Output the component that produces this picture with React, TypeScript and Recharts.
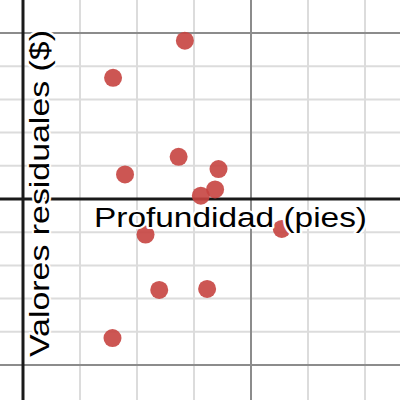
import React from "react";
import { ScatterChart, Scatter, XAxis, YAxis, ReferenceLine } from "recharts";

// Residual plot data (x in minor-grid units of depth, y in minor-grid units of residual)
const depth = [2.84, 1.58, 2.73, 3.43, 1.79, 3.37, 3.12, 2.15, 4.54, 2.39, 3.23, 1.57];
const residual = [4.77, 3.65, 1.27, 0.9, 0.74, 0.29, 0.1, -1.07, -0.9, -2.74, -2.71, -4.19];

const minorX = [1, 2, 3, 5, 6];
const majorX = [4];
const minorY = [-4, -3, -2, -1, 1, 2, 3, 4];
const majorY = [-5, 5];

const xDomain = [-0.4035, 6.614];
const yDomain = [-6.054, 5.994];

const xLabel = "Profundidad (pies)";
const yLabel = "Valores residuales ($)";

const points = depth.map((x, i) => ({ x, y: residual[i] }));

const FONT = "'Liberation Sans', Arial, Helvetica, sans-serif";

export default function App() {
  return (
    <div style={{ position: "absolute", left: 0, top: 0, width: 400, height: 400, background: "#fff" }}>
      <ScatterChart width={400} height={400} margin={{ top: 0, right: 0, bottom: 0, left: 0 }}>
        <XAxis type="number" dataKey="x" domain={xDomain} hide allowDataOverflow />
        <YAxis type="number" dataKey="y" domain={yDomain} hide allowDataOverflow />
        {minorX.map((v) => (
          <ReferenceLine key={"mx" + v} x={v} stroke="#dcdcdc" strokeWidth={2} />
        ))}
        {minorY.map((v) => (
          <ReferenceLine key={"my" + v} y={v} stroke="#dcdcdc" strokeWidth={2} />
        ))}
        {majorX.map((v) => (
          <ReferenceLine key={"Mx" + v} x={v} stroke="#8c8c8c" strokeWidth={2} />
        ))}
        {majorY.map((v) => (
          <ReferenceLine key={"My" + v} y={v} stroke="#8c8c8c" strokeWidth={2} />
        ))}
        <ReferenceLine x={0} stroke="#1a1a1a" strokeWidth={3} />
        <ReferenceLine y={0} stroke="#1a1a1a" strokeWidth={3} />
        <Scatter
          data={points}
          fill="#c74440"
          fillOpacity={0.9}
          isAnimationActive={false}
          shape={(p: any) => <circle cx={p.cx} cy={p.cy} r={9} fill="#c74440" fillOpacity={0.9} />}
        />
      </ScatterChart>
      <svg
        width={400}
        height={400}
        style={{ position: "absolute", left: 0, top: 0, pointerEvents: "none" }}
      >
        <text
          x={94}
          y={226.5}
          fontFamily={FONT}
          fontSize={27}
          fill="#000"
          stroke="#fff"
          strokeWidth={4}
          strokeLinejoin="round"
          paintOrder="stroke"
          textLength={273}
          lengthAdjust="spacingAndGlyphs"
        >
          {xLabel}
        </text>
        <text
          x={48.5}
          y={357}
          transform="rotate(-90, 48.5, 357)"
          fontFamily={FONT}
          fontSize={27}
          fill="#000"
          stroke="#fff"
          strokeWidth={4}
          strokeLinejoin="round"
          paintOrder="stroke"
          textLength={327}
          lengthAdjust="spacingAndGlyphs"
        >
          {yLabel}
        </text>
      </svg>
    </div>
  );
}
